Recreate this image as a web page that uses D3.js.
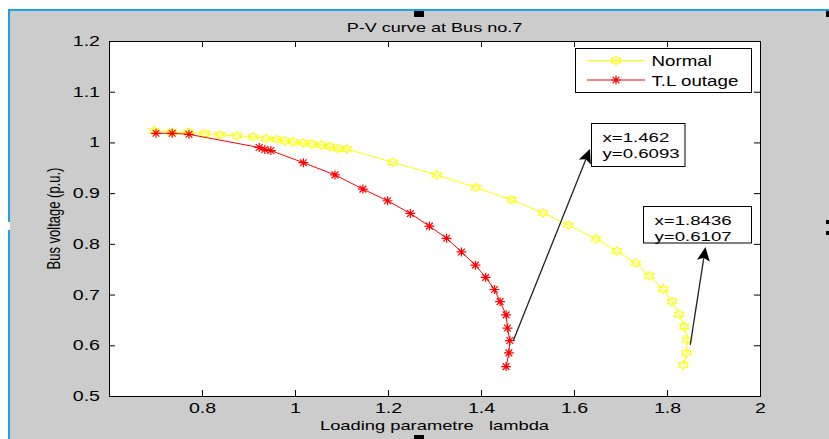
<!DOCTYPE html>
<html>
<head>
<meta charset="utf-8">
<script src="https://cdn.jsdelivr.net/npm/d3@7"></script>
<style>
body { margin: 0; background: #fff; }
svg { display: block; }
text { font-family: "Liberation Sans", Arial, Helvetica, sans-serif; fill: #000; white-space: pre; }
</style>
</head>
<body>
<script>
const WIDTH = 829;
const HEIGHT = 439;

// values (loading parameter lambda vs bus voltage p.u.)
const normalLambda = [0.697, 0.735, 0.771, 0.806, 0.839, 0.875, 0.910, 0.938, 0.961, 0.978, 0.996, 1.018,
    1.036, 1.057, 1.075, 1.093, 1.111, 1.210, 1.305, 1.389, 1.466, 1.533, 1.588, 1.647, 1.692, 1.733,
    1.762, 1.792, 1.811, 1.826, 1.837, 1.8436, 1.842, 1.835];
const normalVoltage = [1.023, 1.020, 1.020, 1.017, 1.015, 1.013, 1.011, 1.008, 1.006, 1.003, 1.001, 0.999,
    0.997, 0.995, 0.992, 0.988, 0.987, 0.961, 0.936, 0.911, 0.887, 0.861, 0.837, 0.810, 0.786, 0.762,
    0.737, 0.711, 0.686, 0.661, 0.637, 0.6107, 0.585, 0.561];

const outageLambda = [0.701, 0.736, 0.772, 0.923, 0.935, 0.948, 1.018, 1.086, 1.146, 1.199, 1.248, 1.289,
    1.326, 1.358, 1.388, 1.410, 1.429, 1.441, 1.454, 1.457, 1.462, 1.460, 1.454];
const outageVoltage = [1.018, 1.018, 1.016, 0.990, 0.986, 0.984, 0.960, 0.936, 0.908, 0.885, 0.860, 0.835,
    0.811, 0.784, 0.758, 0.734, 0.710, 0.686, 0.660, 0.634, 0.6093, 0.585, 0.558];

const seriesNames = ["Normal", "T.L outage"];
const xTicks = [0.8, 1, 1.2, 1.4, 1.6, 1.8, 2];
const yTicks = [0.5, 0.6, 0.7, 0.8, 0.9, 1, 1.1, 1.2];

// data tips (x, y shown in the boxes)
const tipX = [1.462, 1.8436];
const tipY = [0.6093, 0.6107];

const TICK_SX = 1.4; // picture is stretched sideways, so text is too

const svg = d3.select("body")
    .append("svg")
    .attr("width", WIDTH)
    .attr("height", HEIGHT);

// figure window
svg.append("rect").attr("x", 8).attr("y", 9).attr("width", WIDTH - 8).attr("height", HEIGHT - 9).attr("fill", "#cccccc");
svg.append("rect").attr("x", 8).attr("y", 9).attr("width", WIDTH - 8).attr("height", 2).attr("fill", "#1aa3e8");
svg.append("rect").attr("x", 8).attr("y", 9).attr("width", 2).attr("height", HEIGHT - 9).attr("fill", "#1aa3e8");
svg.append("rect").attr("x", 8).attr("y", 222).attr("width", 2).attr("height", 8).attr("fill", "#fff");
// selection handles
[[414, 11, 10, 6], [414, 435, 10, 4], [826, 11, 3, 6], [826, 220, 3, 4], [826, 231, 3, 4]].forEach(h => {
    svg.append("rect").attr("x", h[0]).attr("y", h[1]).attr("width", h[2]).attr("height", h[3]).attr("fill", "#000");
});

const x = d3.scaleLinear().domain([0.6, 2]).range([109, 760]);
const y = d3.scaleLinear().domain([0.5, 1.2]).range([396, 41]);

svg.append("rect")
    .attr("x", x(0.6) + 0.5)
    .attr("y", y(1.2) + 0.5)
    .attr("width", x(2) - x(0.6))
    .attr("height", y(0.5) - y(1.2))
    .attr("fill", "#fff")
    .attr("stroke", "#000");

const fmt = d => String(d);

const gx = svg.append("g")
    .attr("transform", `translate(0,${y(0.5)})`)
    .call(d3.axisBottom(x).tickValues(xTicks).tickSize(-6).tickPadding(7).tickFormat(fmt));
const gy = svg.append("g")
    .attr("transform", `translate(${x(0.6)},0)`)
    .call(d3.axisLeft(y).tickValues(yTicks).tickSize(-6).tickFormat(fmt));
const gt = svg.append("g")
    .attr("transform", `translate(0,${y(1.2)})`)
    .call(d3.axisTop(x).tickValues(xTicks).tickSize(-6).tickFormat(""));
const gr = svg.append("g")
    .attr("transform", `translate(${x(2)},0)`)
    .call(d3.axisRight(y).tickValues(yTicks).tickSize(-6).tickFormat(""));

[gx, gy, gt, gr].forEach(g => {
    g.attr("font-size", null).attr("font-family", null);
    g.select(".domain").remove();
    g.selectAll(".tick line").attr("stroke", "#000");
});
gx.selectAll("text").attr("font-size", 14).attr("transform", `scale(${TICK_SX},1)`);
gy.selectAll("text").attr("font-size", 14).attr("x", -9 / TICK_SX).attr("transform", `scale(${TICK_SX},1)`);

const label = (str, px, py, size, sx, anchor) => svg.append("text")
    .attr("transform", `translate(${px},${py}) scale(${sx},1)`)
    .attr("text-anchor", anchor || "middle")
    .attr("font-size", size)
    .text(str);

const midX = (x(0.6) + x(2)) / 2;
label("P-V curve at Bus no.7", midX, 31.5, 13, 1.39);
label("Loading parametre   lambda", midX, 429.5, 13, 1.41);
svg.append("text")
    .attr("transform", `translate(60,${(y(0.5) + y(1.2)) / 2}) scale(1.4,1) rotate(-90)`)
    .attr("text-anchor", "middle")
    .attr("font-size", 13)
    .text("Bus voltage (p.u.)");

// markers
const hexagram = r => {
    const pts = d3.range(12).map(i => {
        const a = i * Math.PI / 6;
        const rr = i % 2 === 0 ? r : r / Math.sqrt(3);
        return [rr * Math.sin(a) * 1.25, -rr * Math.cos(a)];
    });
    return "M" + pts.map(p => p.join(",")).join("L") + "Z";
};
const asterisk = r => {
    const d = r * 0.75;
    return `M${-r * 1.1},0L${r * 1.1},0M0,${-r}L0,${r}M${-d},${-d}L${d},${d}M${-d},${d}L${d},${-d}`;
};

const series = [
    { name: seriesNames[0], lx: normalLambda, vy: normalVoltage, color: "#ffff00", marker: hexagram(4.3), width: 1.1 },
    { name: seriesNames[1], lx: outageLambda, vy: outageVoltage, color: "#ff0000", marker: asterisk(4.5), width: 1.2 }
];

const line = d3.line().x(d => x(d[0])).y(d => y(d[1]));

series.forEach(s => {
    const pts = s.lx.map((v, i) => [v, s.vy[i]]);
    svg.append("path")
        .attr("d", line(pts))
        .attr("fill", "none")
        .attr("stroke", s.color)
        .attr("stroke-width", 1);
    svg.append("g")
        .selectAll("path")
        .data(pts)
        .enter()
        .append("path")
        .attr("transform", d => `translate(${x(d[0])},${y(d[1])})`)
        .attr("d", s.marker)
        .attr("fill", "none")
        .attr("stroke", s.color)
        .attr("stroke-width", s.width);
});

// legend
const legend = svg.append("g");
legend.append("rect")
    .attr("x", 575.5).attr("y", 48.5).attr("width", 176).attr("height", 44)
    .attr("fill", "#fff").attr("stroke", "#000");
series.forEach((s, i) => {
    const ly = 60.5 + i * 19.5;
    legend.append("line").attr("x1", 587).attr("x2", 645).attr("y1", ly).attr("y2", ly)
        .attr("stroke", s.color).attr("stroke-width", 1);
    legend.append("path").attr("transform", `translate(616,${ly})`).attr("d", s.marker)
        .attr("fill", "none").attr("stroke", s.color).attr("stroke-width", s.width);
    label(s.name, 651.5, ly + 5.5, 15, 1.25, "start");
});

// data tip boxes with arrows
const tipLayout = [
    { box: [591.5, 123.5, 93.5, 43], head: [590, 149], dx: 3.5, dy: 0 },
    { box: [643.5, 206.5, 108, 36.5], head: [705.5, 247], dx: 3, dy: 5 }
];
tipLayout.forEach((t, i) => {
    const s = [x(tipX[i]) + t.dx, y(tipY[i]) + t.dy];
    const h = t.head;
    const len = Math.hypot(h[0] - s[0], h[1] - s[1]);
    const u = [(h[0] - s[0]) / len, (h[1] - s[1]) / len];
    const n = [-u[1], u[0]];
    const L = 14, W = 6.5;
    const base = [h[0] - u[0] * L, h[1] - u[1] * L];
    const back = [h[0] - u[0] * (L - 3), h[1] - u[1] * (L - 3)];
    svg.append("line")
        .attr("x1", s[0]).attr("y1", s[1]).attr("x2", back[0]).attr("y2", back[1])
        .attr("stroke", "#222").attr("stroke-width", 1.3);
    svg.append("path")
        .attr("d", `M${h[0]},${h[1]}L${base[0] + n[0] * W},${base[1] + n[1] * W}L${back[0]},${back[1]}L${base[0] - n[0] * W},${base[1] - n[1] * W}Z`)
        .attr("fill", "#000");
    svg.append("rect")
        .attr("x", t.box[0]).attr("y", t.box[1]).attr("width", t.box[2]).attr("height", t.box[3])
        .attr("fill", "#fff").attr("stroke", "#000");
    label(`x=${tipX[i]}`, t.box[0] + 11, t.box[1] + 18.5, 13.5, 1.38, "start");
    label(`y=${tipY[i]}`, t.box[0] + 11, t.box[1] + 34, 13.5, 1.38, "start");
});
</script>
</body>
</html>
